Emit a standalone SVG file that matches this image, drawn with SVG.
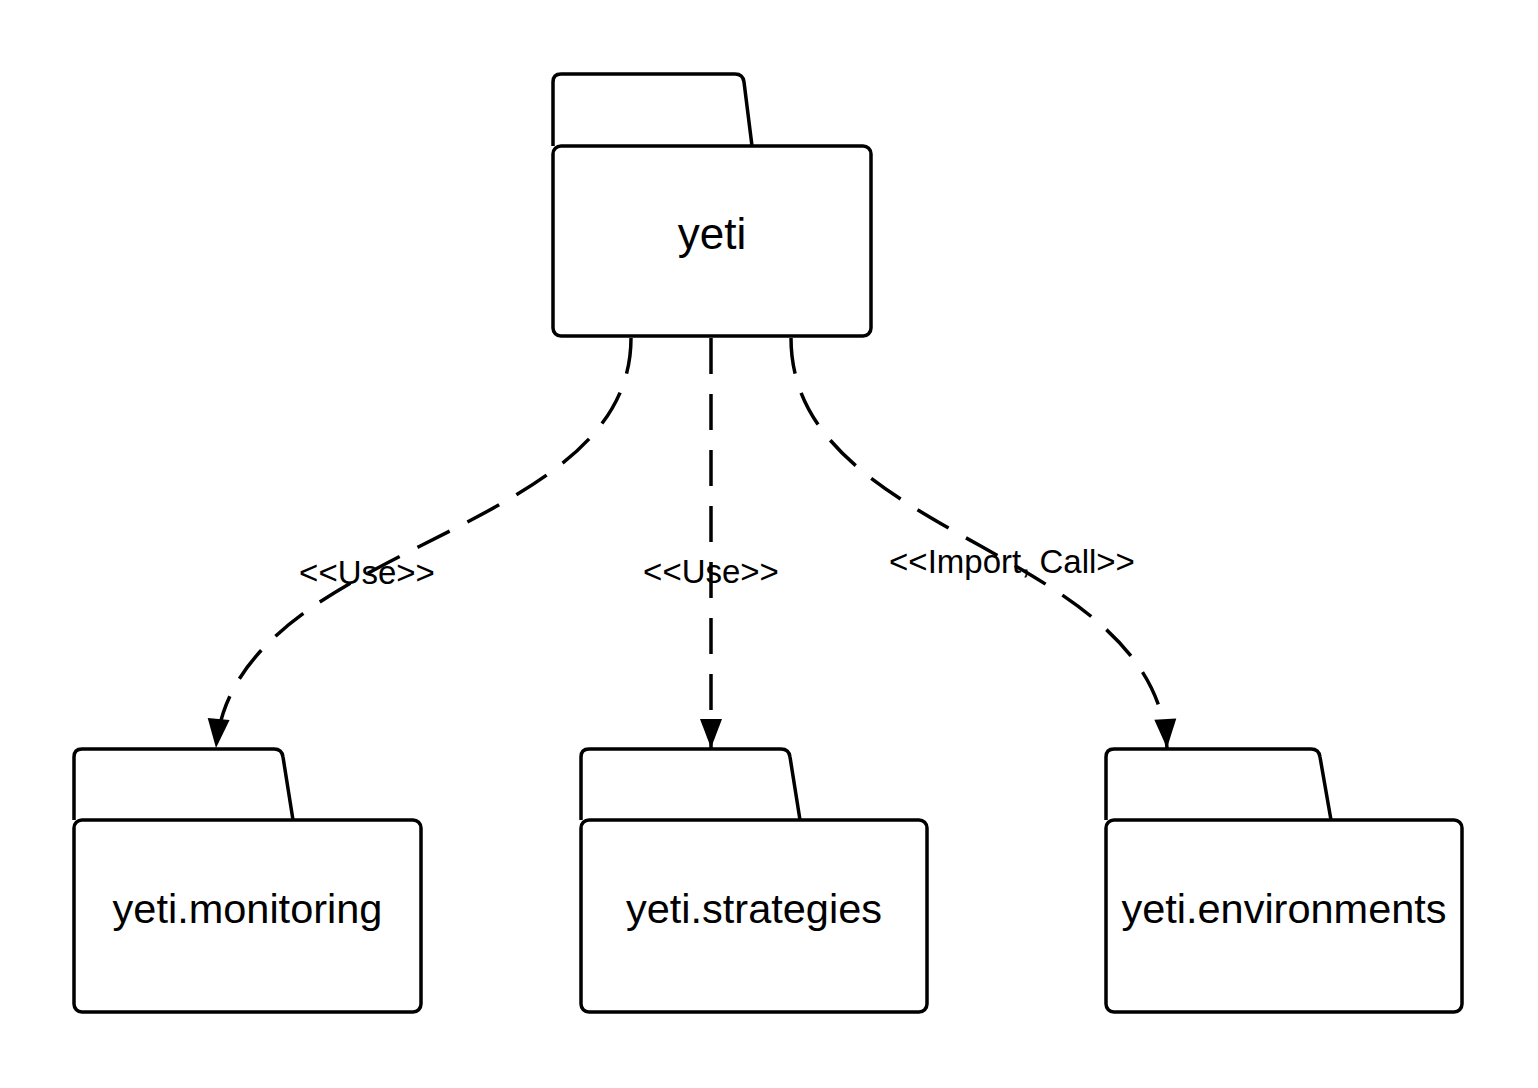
<svg xmlns="http://www.w3.org/2000/svg" width="1538" height="1088" viewBox="0 0 1538 1088">
<style>
.shape{fill:#fff;stroke:#000;stroke-width:3.5;stroke-linejoin:round}
.name{font-family:"Liberation Sans",Arial,sans-serif;font-size:41.5px;fill:#000;text-anchor:middle}
.edge{fill:none;stroke:#000;stroke-width:3.5;stroke-dasharray:36 20}
.lbl{font-family:"Liberation Sans",Arial,sans-serif;font-size:33px;fill:#000;text-anchor:middle}
</style>
<defs>
<marker id="arrow" markerUnits="userSpaceOnUse" markerWidth="32" markerHeight="26" viewBox="0 0 32 26" refX="31" refY="13" orient="auto">
<path d="M2,2 L31,13 L2,24 Z" fill="#000"/>
</marker>
</defs>
<rect width="1538" height="1088" fill="#fff"/>
<g id="connectors">
<path class="edge" d="M631,338 C631,540 235,540 216,748" marker-end="url(#arrow)"/>
<path class="edge" d="M711,338 L711,748" marker-end="url(#arrow)"/>
<path class="edge" d="M791,338 C791,540 1155,545 1167,748" marker-end="url(#arrow)"/>
<text class="lbl" x="367" y="584">&lt;&lt;Use&gt;&gt;</text>
<text class="lbl" x="711" y="583">&lt;&lt;Use&gt;&gt;</text>
<text class="lbl" x="1012" y="573">&lt;&lt;Import, Call&gt;&gt;</text>
</g>
<g id="yeti">
<path class="shape" d="M553,146 V82 Q553,74 561,74 H735 Q743,74 744,82 L752,146"/>
<rect class="shape" x="553" y="146" width="318" height="190" rx="8"/>
<text class="name" x="712" y="249" style="font-size:44px">yeti</text>
</g>
<g id="yeti-monitoring">
<path class="shape" d="M74,820 V757 Q74,749 82,749 H274 Q282,749 283,757 L293,820"/>
<rect class="shape" x="74" y="820" width="347" height="192" rx="8"/>
<text class="name" x="247.5" y="923">yeti.monitoring</text>
</g>
<g id="yeti-strategies">
<path class="shape" d="M581,820 V757 Q581,749 589,749 H781 Q789,749 790,757 L800,820"/>
<rect class="shape" x="581" y="820" width="346" height="192" rx="8"/>
<text class="name" x="754" y="923">yeti.strategies</text>
</g>
<g id="yeti-environments">
<path class="shape" d="M1106,820 V757 Q1106,749 1114,749 H1311 Q1319,749 1320,757 L1331,820"/>
<rect class="shape" x="1106" y="820" width="356" height="192" rx="8"/>
<text class="name" x="1284" y="923">yeti.environments</text>
</g>
</svg>
